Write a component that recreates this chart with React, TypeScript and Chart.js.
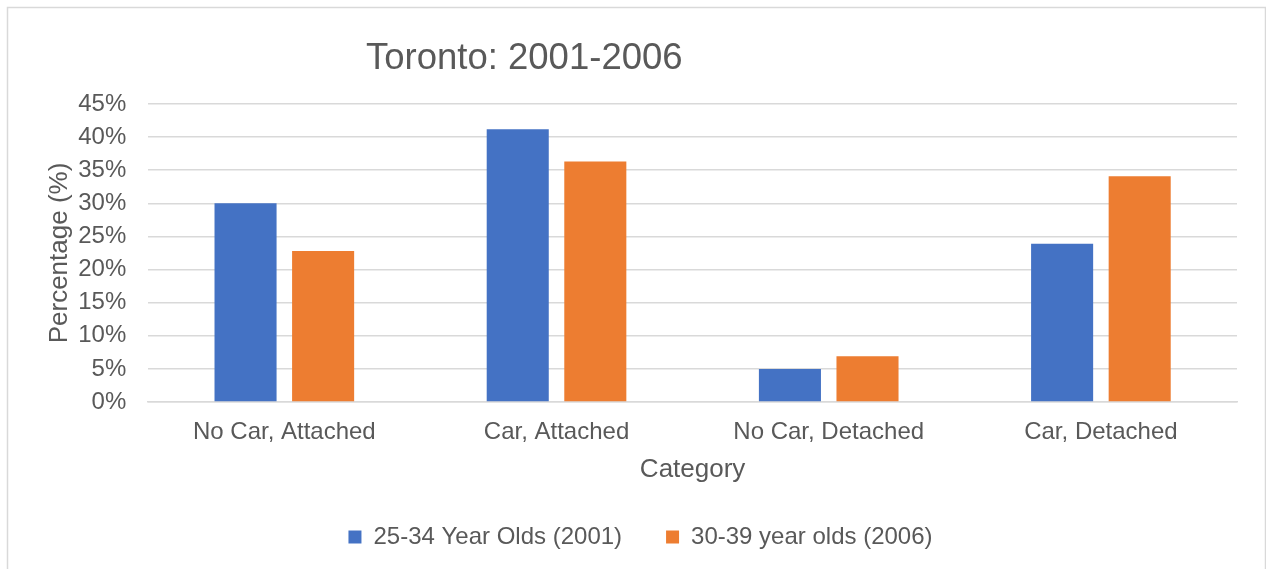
import React, { useEffect, useRef } from "react";
import { Chart, registerables } from "chart.js";

Chart.register(...registerables);

const chartTitle = "Toronto: 2001-2006";
const categories = ["No Car, Attached", "Car, Attached", "No Car, Detached", "Car, Detached"];
const series2001Label = "25-34 Year Olds (2001)";
const series2006Label = "30-39 year olds (2006)";
const series2001 = [30.0, 41.2, 5.0, 23.9];
const series2006 = [22.8, 36.3, 6.9, 34.1];
const yAxisTitle = "Percentage (%)";
const xAxisTitle = "Category";

const TEXT = "#595959";
const GRID = "#D9D9D9";
const FONT = "'Liberation Sans', Arial, sans-serif";

const framePlugin = {
  id: "frameAndTitle",
  beforeDraw(chart: any) {
    const ctx = chart.ctx;
    ctx.save();
    ctx.fillStyle = "#ffffff";
    ctx.fillRect(0, 0, chart.width, chart.height);
    ctx.strokeStyle = GRID;
    ctx.lineWidth = 1.5;
    ctx.strokeRect(7.5, 7.5, 1258, 620);
    ctx.restore();
  },
  afterDraw(chart: any) {
    const ctx = chart.ctx;
    ctx.save();
    ctx.fillStyle = TEXT;
    ctx.font = `36.5px ${FONT}`;
    ctx.textAlign = "left";
    ctx.textBaseline = "alphabetic";
    ctx.fillText(chartTitle, 366, 69);
    ctx.restore();
  },
};

export default function App() {
  const canvasRef = useRef<HTMLCanvasElement | null>(null);

  useEffect(() => {
    if (!canvasRef.current) return;
    Chart.defaults.font.family = FONT;
    Chart.defaults.color = TEXT;
    const chart = new Chart(canvasRef.current, {
      type: "bar",
      data: {
        labels: categories,
        datasets: [
          {
            label: series2001Label,
            data: series2001,
            backgroundColor: "#4472C4",
            categoryPercentage: 0.57,
            barPercentage: 0.8,
          },
          {
            label: series2006Label,
            data: series2006,
            backgroundColor: "#ED7D31",
            categoryPercentage: 0.57,
            barPercentage: 0.8,
          },
        ],
      },
      options: {
        responsive: false,
        animation: false,
        layout: { padding: { left: 44, right: 29, top: 104, bottom: 10 } },
        plugins: {
          title: { display: false },
          tooltip: { enabled: false },
          legend: {
            display: true,
            position: "bottom",
            labels: {
              boxWidth: 13,
              boxHeight: 13,
              padding: 44,
              color: TEXT,
              font: { size: 24, family: FONT },
            },
          },
        },
        scales: {
          x: {
            grid: { display: false, drawTicks: false },
            border: { display: true, color: GRID, width: 1.5 },
            ticks: { padding: 16, color: TEXT, font: { size: 24, family: FONT } },
            title: {
              display: true,
              text: xAxisTitle,
              color: TEXT,
              font: { size: 26, family: FONT },
              padding: { top: -8.4, bottom: -4.6 },
            },
          },
          y: {
            min: 0,
            max: 45,
            grid: { color: GRID, lineWidth: 1.5, drawTicks: false },
            border: { display: false },
            ticks: {
              stepSize: 5,
              autoSkip: false,
              padding: 22,
              color: TEXT,
              font: { size: 24, family: FONT },
              callback: (v: any) => `${v}%`,
            },
            title: {
              display: true,
              text: yAxisTitle,
              color: TEXT,
              font: { size: 26, family: FONT },
              padding: { top: 0, bottom: -19 },
            },
          },
        },
      },
      plugins: [framePlugin],
    });
    return () => chart.destroy();
  }, []);

  return (
    <div style={{ position: "absolute", left: 0, top: 0, width: 1266, height: 569 }}>
      <canvas ref={canvasRef} width={1266} height={569} style={{ width: 1266, height: 569, display: "block" }} />
    </div>
  );
}
